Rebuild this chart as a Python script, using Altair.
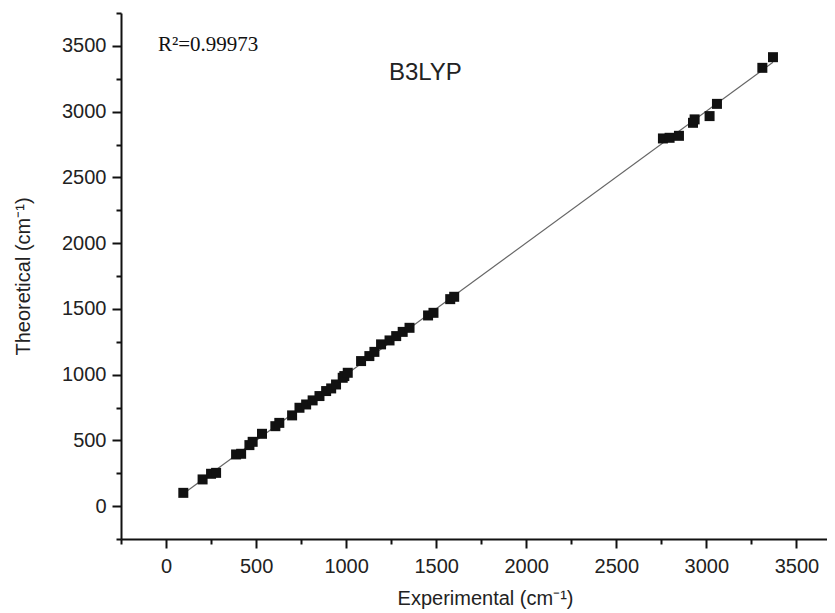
import altair as alt
import pandas as pd

# Experimental vs theoretical wavenumbers (cm-1)
experimental = [96, 203, 250, 278, 389, 417, 463, 481, 533, 607,
                629, 700, 741, 778, 814, 852, 889, 917, 944, 981,
                990, 1009, 1083, 1129, 1157, 1194, 1241, 1278, 1314, 1352,
                1455, 1485, 1578, 1600,
                2759, 2796, 2848, 2926, 2935, 3018, 3059, 3311, 3370]
theoretical = [101, 203, 246, 253, 393, 398, 464, 489, 550, 608,
               633, 690, 748, 773, 804, 837, 875, 895, 925, 976,
               989, 1014, 1103, 1141, 1173, 1230, 1260, 1293, 1325, 1356,
               1450, 1470, 1574, 1592,
               2796, 2801, 2816, 2915, 2941, 2966, 3059, 3333, 3414]

x_ticks = list(range(-250, 3501, 250))
y_ticks = list(range(-250, 3751, 250))
x_domain = [-250, 3670]
y_domain = [-250, 3750]

r2_text = ["R\u00b2=0.99973"]
r2_x = [-45]
r2_y = [3505]
method_text = ["B3LYP"]
method_x = [1440]
method_y = [3290]

df = pd.DataFrame({"exp": experimental, "theo": theoretical})
df_r2 = pd.DataFrame({"exp": r2_x, "theo": r2_y, "t": r2_text})
df_m = pd.DataFrame({"exp": method_x, "theo": method_y, "t": method_text})

is_major = "abs(datum.value - 500 * round(datum.value / 500)) < 1"
label_expr = f"({is_major} && datum.value > -1) ? format(datum.value, 'd') : ''"
tick_size = {"condition": {"test": is_major, "value": 9}, "value": 5}

x_scale = alt.Scale(domain=x_domain, nice=False, zero=False)
y_scale = alt.Scale(domain=y_domain, nice=False, zero=False)

x_axis = alt.Axis(values=x_ticks, labelExpr=label_expr, tickSize=tick_size,
                  labelFlush=False, labelOverlap=False, labelPadding=8,
                  title="Experimental (cm\u207b\u00b9)", titlePadding=12, titleX=364)
y_axis = alt.Axis(values=y_ticks, labelExpr=label_expr, tickSize=tick_size,
                  labelFlush=False, labelOverlap=False, labelPadding=6,
                  title="Theoretical (cm\u207b\u00b9)", titlePadding=28)

x_enc = alt.X("exp:Q", scale=x_scale, axis=x_axis)
y_enc = alt.Y("theo:Q", scale=y_scale, axis=y_axis)

base = alt.Chart(df)
points = base.mark_square(size=100, color="#111111", opacity=1).encode(x=x_enc, y=y_enc)
line = base.transform_regression("exp", "theo").mark_line(
    color="#666666", strokeWidth=1.2).encode(x=x_enc, y=y_enc)

r2 = alt.Chart(df_r2).mark_text(
    font="Liberation Serif", fontSize=21, align="left", baseline="middle", color="#111"
).encode(x=x_enc, y=y_enc, text="t:N")
method = alt.Chart(df_m).mark_text(
    font="Liberation Sans", fontSize=24, align="center", baseline="middle", color="#222"
).encode(x=x_enc, y=y_enc, text="t:N")

chart = alt.layer(line, points, r2, method).properties(
    width=706, height=526,
    padding={"left": 113, "top": 5, "right": 0, "bottom": 70},
    autosize=alt.AutoSizeParams(type="none"),
    background="white",
).configure_view(stroke=None).configure_axis(
    grid=False,
    domainColor="#111", domainWidth=2,
    tickColor="#111", tickWidth=2,
    labelFont="Liberation Sans", labelFontSize=20, labelColor="#222",
    titleFont="Liberation Sans", titleFontSize=20, titleFontWeight="normal",
    titleColor="#222",
)

chart.save("out.html", embed_options={"renderer": "svg", "actions": False})
